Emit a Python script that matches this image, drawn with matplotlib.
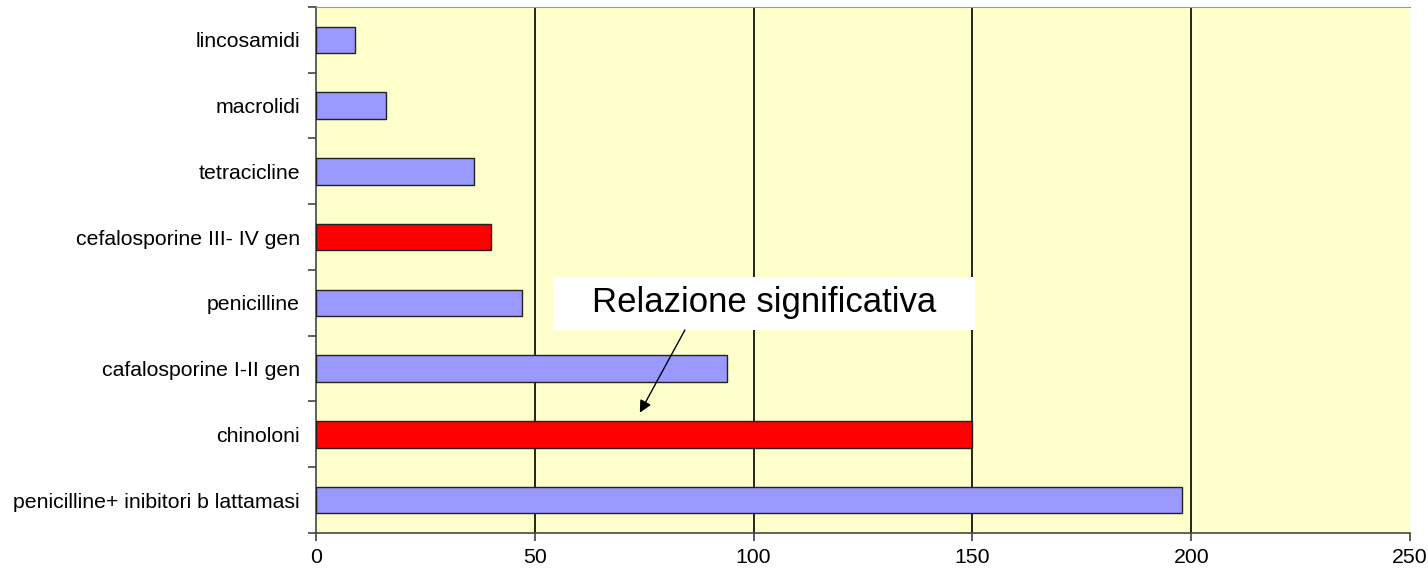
import matplotlib.pyplot as plt
from matplotlib.patches import Rectangle

plt.rcParams['font.family'] = ['Liberation Sans', 'DejaVu Sans']

# categorie dal basso verso l'alto
categorie = ['penicilline+ inibitori b lattamasi', 'chinoloni', 'cafalosporine I-II gen',
             'penicilline', 'cefalosporine III- IV gen', 'tetracicline', 'macrolidi', 'lincosamidi']
valori = [198, 150, 94, 47, 40, 36, 16, 9]
significativi = [False, True, False, False, True, False, False, False]
xticks = [0, 50, 100, 150, 200, 250]

colori = ['#FF0000' if s else '#9999FF' for s in significativi]

fig = plt.figure(figsize=(14.28, 5.72), dpi=100)
ax = fig.add_axes([0.2213, 0.0682, 0.7661, 0.9196])
ax.set_facecolor('#FFFFCC')

y = list(range(len(categorie)))
ax.barh(y, valori, height=0.4, color=colori, edgecolor='#222222', linewidth=1, zorder=3)

ax.set_xlim(0, 250)
ax.set_ylim(-0.5, len(categorie) - 0.5)
ax.set_xticks(xticks)
ax.set_xticklabels([str(v) for v in xticks], fontsize=15.3)
for v in xticks[1:-1]:
    ax.axvline(v, color='black', linewidth=1.2, zorder=1)

# tick tra le categorie, etichette al centro
ax.set_yticks([i + 0.5 for i in range(-1, len(categorie))])
ax.set_yticklabels([])
ax.set_yticks(y, minor=True)
ax.set_yticklabels(categorie, minor=True, fontsize=15.3)
ax.tick_params(axis='y', which='minor', length=0, pad=11.5)
ax.tick_params(axis='y', which='major', length=6, color='#444444', width=1.2)
ax.tick_params(axis='x', length=6, color='#444444', width=1.2, pad=5)

ax.spines['right'].set_visible(False)
ax.spines['top'].set_color('#999999')
ax.spines['top'].set_linewidth(0.8)
ax.spines['left'].set_color('#444444')
ax.spines['bottom'].set_color('#444444')
ax.spines['left'].set_linewidth(1.2)
ax.spines['bottom'].set_linewidth(1.2)

# riquadro della nota
ax.add_patch(Rectangle((54.2, 2.587), 96.4, 0.807, facecolor='white', edgecolor='none', zorder=4))
ax.text(102.4, 3.0, 'Relazione significativa', fontsize=25, ha='center', va='center', zorder=5)
ax.annotate('', xy=(74, 1.33), xytext=(84.3, 2.587), zorder=5,
            arrowprops=dict(arrowstyle='-|>', color='black', lw=1, mutation_scale=18,
                            shrinkA=0, shrinkB=0))

fig.savefig('out.png', dpi=100)
